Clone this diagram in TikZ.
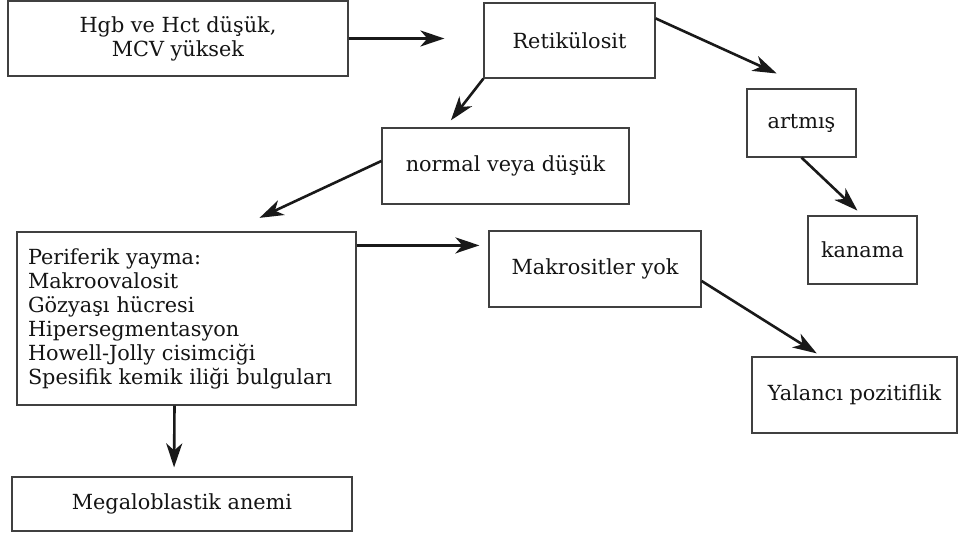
\documentclass[tikz,border=0pt]{standalone}
\usepackage{fontspec}
\setmainfont{DejaVu Serif}
\usepackage{tikz}
\usetikzlibrary{arrows.meta}

\begin{document}
    \begin{tikzpicture}[x=0.5pt, y=-0.5pt,
      box/.style={draw=black!75, line width=0.6pt, text=black!92, font=\fontsize{10.4}{12}\selectfont, inner sep=0pt, align=center},
      arr/.style={-{Stealth[length=12pt, width=8pt, inset=3.5pt]}, line width=1.3pt, black!90}]
      \useasboundingbox (0,0) rectangle (958,533);
      \node[name=hgb, box, minimum width=170pt, minimum height=37.5pt] at (178,38.5) {Hgb ve Hct düşük,\\MCV yüksek};
      \node[name=retik, box, minimum width=85.5pt, minimum height=37.5pt] at (569.5,40.5) {Retikülosit};
      \node[name=normal, box, minimum width=123.5pt, minimum height=38pt] at (505.5,166) {normal veya düşük};
      \node[name=artmis, box, minimum width=54.5pt, minimum height=34pt] at (801.5,123) {artmış};
      \node[name=kanama, box, minimum width=54.5pt, minimum height=34pt] at (862.5,250) {kanama};
      \node[name=perif, box, align=left, text width=158.5pt, inner xsep=5.5pt, minimum height=86.5pt] at (186.5,318.5) {Periferik yayma:\\Makroovalosit\\Gözyaşı hücresi\\Hipersegmentasyon\\Howell-Jolly cisimciği\\Spesifik kemik iliği bulguları};
      \node[name=makro, box, minimum width=106pt, minimum height=38pt] at (595,269) {Makrositler yok};
      \node[name=yalanci, box, minimum width=102.5pt, minimum height=38pt] at (854.5,395) {Yalancı pozitiflik};
      \node[name=megalo, box, minimum width=170pt, minimum height=27pt] at (182,504) {Megaloblastik anemi};
      \draw[arr, shorten >=19.5pt] (hgb.east) -- (hgb.east -| retik.west);
      \draw[arr, shorten >=4.5pt] (retik.south west) -- ([xshift=32pt]normal.north west);
      \draw[arr, shorten >=18pt] ([yshift=-8pt]retik.north east) -- ([xshift=4pt]artmis.north);
      \draw[arr, shorten >=3.5pt] (artmis.south) -- (kanama.north);
      \draw[arr, shorten >=16pt] ([yshift=2.5pt]normal.west) -- ([xshift=22pt]perif.north);
      \draw[arr, shorten >=4.5pt] ([yshift=-7pt]perif.north east) -- ([yshift=-7.5pt]makro.north west);
      \draw[arr, shorten >=2.8pt] ([yshift=-6pt]makro.east) -- ([xshift=-16.5pt]yalanci.north);
      \draw[arr, shorten >=4.5pt] ([xshift=-6pt]perif.south) -- ([xshift=-4pt]megalo.north);
    \end{tikzpicture}
\end{document}
